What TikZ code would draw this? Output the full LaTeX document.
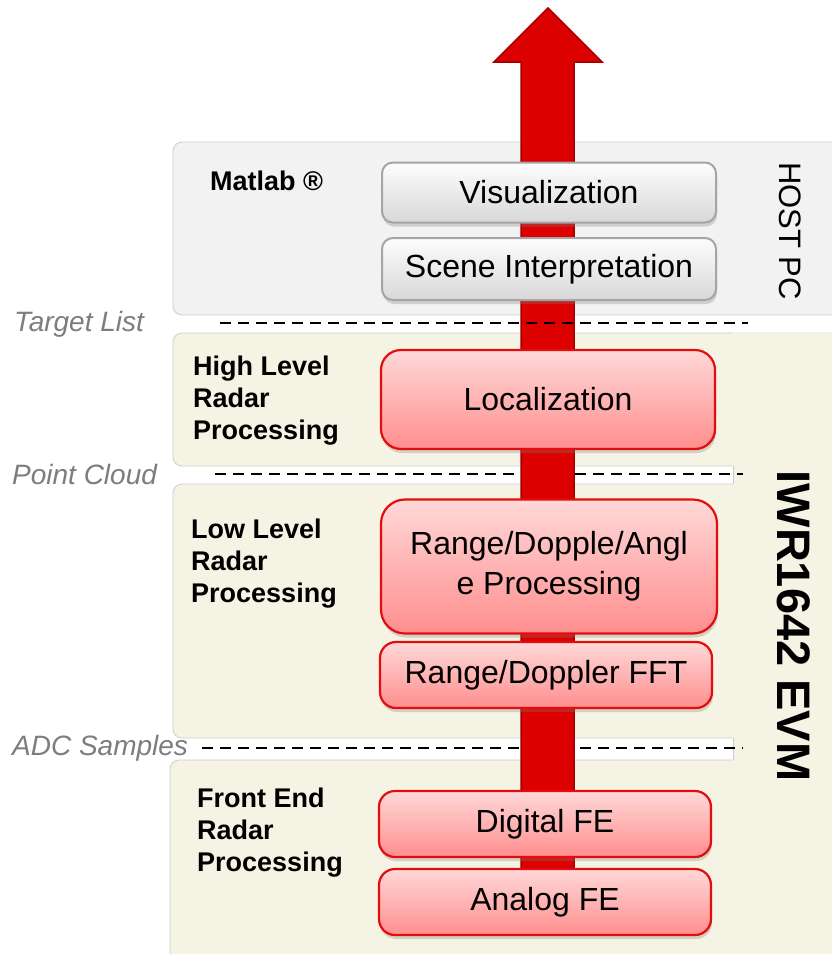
\documentclass[tikz,border=0pt]{standalone}
\usepackage{fontspec}
\setmainfont{Liberation Sans}
\usetikzlibrary{positioning}
\usetikzlibrary{shadows}
\newcommand*{\picW}{832}
\newcommand*{\picH}{954}
\definecolor{hostgray}{RGB}{242,242,242}
\definecolor{evmbeige}{RGB}{245,243,228}
\definecolor{panelline}{RGB}{205,205,205}
\definecolor{arrowred}{RGB}{221,0,0}
\definecolor{arrowdark}{RGB}{165,0,0}
\definecolor{boxred}{RGB}{228,12,12}
\definecolor{redtop}{RGB}{255,216,216}
\definecolor{redbot}{RGB}{255,142,142}
\definecolor{grayline}{RGB}{165,165,165}
\definecolor{graytop}{RGB}{253,253,253}
\definecolor{graybot}{RGB}{216,216,216}
\definecolor{labelgray}{RGB}{125,125,125}
\tikzset{
  panel/.style={draw=panelline, line width=0.8pt, rounded corners=9pt},
  redbox/.style={
    draw=boxred, line width=2.2pt, rounded corners=16pt,
    top color=redtop, bottom color=redbot,
    minimum width=334pt, minimum height=66pt, inner sep=0pt, align=center,
    font=\fontsize{32}{40}\selectfont,
    drop shadow={opacity=0.3, shadow xshift=1pt, shadow yshift=-4pt}
  },
  graybox/.style={
    draw=grayline, line width=2pt, rounded corners=11pt,
    top color=graytop, bottom color=graybot,
    minimum width=334pt, minimum height=60pt, inner sep=0pt,
    font=\fontsize{32}{40}\selectfont,
    drop shadow={opacity=0.3, shadow xshift=1pt, shadow yshift=-4pt}
  },
  stagelabel/.style={anchor=west, inner sep=0pt, align=left,
    font=\fontsize{27}{32}\selectfont\bfseries},
  flowlabel/.style={anchor=west, inner sep=0pt, text=labelgray,
    font=\fontsize{28}{32}\selectfont\itshape},
  sepline/.style={dash pattern=on 11pt off 7pt, line width=2.6pt}
}
\begin{document}
\begin{tikzpicture}[x=1pt, y=-1pt]
    \useasboundingbox (0,0) rectangle (\picW,\picH);
    \fill[white] (0,0) rectangle (\picW,\picH);

    % host pc and evm panels
    \draw[panel, fill=hostgray] (173,142) rectangle (860,315);
    \draw[panel, fill=evmbeige] (173,333) rectangle (760,466);
    \draw[panel, fill=evmbeige] (173,484) rectangle (760,738);
    \draw[panel, fill=evmbeige] (170,760) rectangle (760,980);
    \fill[evmbeige] (733.4,332) rectangle (860,980);
    \draw[panelline, line width=0.8pt] (733,466) -- (733,484);
    \draw[panelline, line width=0.8pt] (733,738) -- (733,760);

    % data separators
    \node[flowlabel] (target) at (14,324) {Target List};
    \node[flowlabel] (cloud) at (12,474) {Point Cloud};
    \node[flowlabel] (adc) at (12,748) {ADC Samples};
    \draw[sepline] (215,474) -- (743,474);
    \draw[sepline] (202,748) -- (743,748);

    % data flow arrow
    \draw[fill=arrowred, draw=arrowdark, line width=1.5pt, line join=miter]
        (521,900) -- (521,62) -- (494,62) -- (548,8) -- (602,62)
        -- (574,62) -- (574,900) -- cycle;
    \draw[sepline] (220,323) -- (748,323);

    % processing blocks
    \node[graybox] (vis) at (549,192.5) {Visualization};
    \node[graybox, minimum height=62pt] (scene) at (549,269) {Scene Interpretation};
    \node[redbox, minimum height=99pt, rounded corners=20pt] (loc) at (548,399.5) {Localization};
    \node[redbox, minimum width=336pt, minimum height=134pt, rounded corners=24pt] (rda) at (549,566.5)
        {Range/Dopple/Angl\\e Processing};
    \node[redbox, minimum width=332pt] (fft) at (546,675) {Range/Doppler FFT};
    \node[redbox, minimum width=332pt] (dfe) at (545,824) {Digital FE};
    \node[redbox, minimum width=332pt] (afe) at (545,902) {Analog FE};

    % layer names
    \node[stagelabel] (matlab) at (210,181) {Matlab ®};
    \foreach \n/\x/\y/\txt in {high/193/401/{High Level\\Radar\\Processing},
                              low/191/564/{Low Level\\Radar\\Processing},
                              front/197/833/{Front End\\Radar\\Processing}} {
        \node[stagelabel] (\n) at (\x,\y) {\txt};
    }
    \node[rotate=-90, font=\fontsize{31}{36}\selectfont] (host) at (790,231) {HOST PC};
    \node[rotate=-90, font=\fontsize{47}{52}\selectfont\bfseries] (evm) at (794,626) {IWR1642 EVM};
\end{tikzpicture}
\end{document}
